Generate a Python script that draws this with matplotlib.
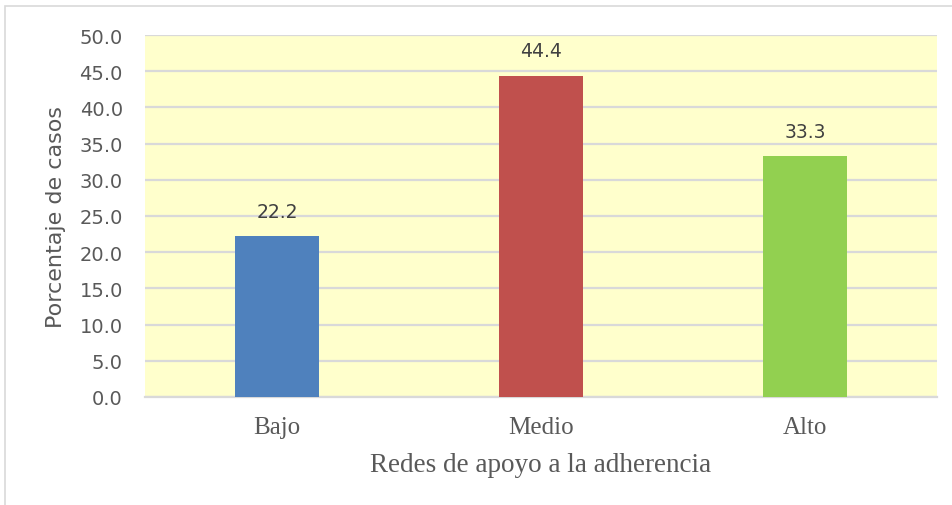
import matplotlib.pyplot as plt
from matplotlib.patches import Rectangle

categorias = ["Bajo", "Medio", "Alto"]
porcentajes = [22.2, 44.4, 33.3]
colores = ["#4F81BD", "#C0504D", "#92D050"]

fig = plt.figure(figsize=(9.53, 5.06), dpi=100)
# marco gris del area del grafico
fig.patches.append(Rectangle((5 / 953, -0.1), 1.1, (506 - 7) / 506 + 0.1,
                             transform=fig.transFigure, fill=False,
                             edgecolor="#D9D9D9", linewidth=1.2))

ax = fig.add_axes([145 / 953, 108 / 506, 792 / 953, 362 / 506])
ax.set_facecolor("#FFFFCC")

x = range(len(categorias))
barras = ax.bar(x, porcentajes, width=0.315, color=colores, zorder=3)

for b, v in zip(barras, porcentajes):
    ax.annotate(f"{v:.1f}", (b.get_x() + b.get_width() / 2, v),
                xytext=(0, 11), textcoords="offset points",
                ha="center", va="bottom", fontsize=13.5, color="#404040",
                family="DejaVu Sans")

ax.set_xlim(-0.5, 2.5)
ax.set_ylim(0, 50)
ax.set_yticks([i * 5 for i in range(11)])
ax.set_yticklabels([f"{i * 5:.1f}" for i in range(11)])
ax.yaxis.grid(True, color="#D9D9D9", linewidth=1.6, zorder=0)
ax.set_axisbelow(True)

for s in ["top", "right", "left"]:
    ax.spines[s].set_visible(False)
ax.spines["bottom"].set_color("#D9D9D9")
ax.spines["bottom"].set_linewidth(1.6)

ax.tick_params(axis="both", length=0)
ax.tick_params(axis="y", labelsize=14, labelcolor="#595959", pad=16)
ax.set_xticks(list(x))
ax.set_xticklabels(categorias, family="Liberation Serif", fontsize=18,
                   color="#595959")
ax.tick_params(axis="x", pad=14)

ax.set_ylabel("Porcentaje de casos", fontsize=16, color="#595959",
              family="DejaVu Sans", labelpad=10)
ax.set_xlabel("Redes de apoyo a la adherencia", family="Liberation Serif",
              fontsize=19.5, color="#595959", labelpad=10)

plt.savefig("out.png", dpi=100)
